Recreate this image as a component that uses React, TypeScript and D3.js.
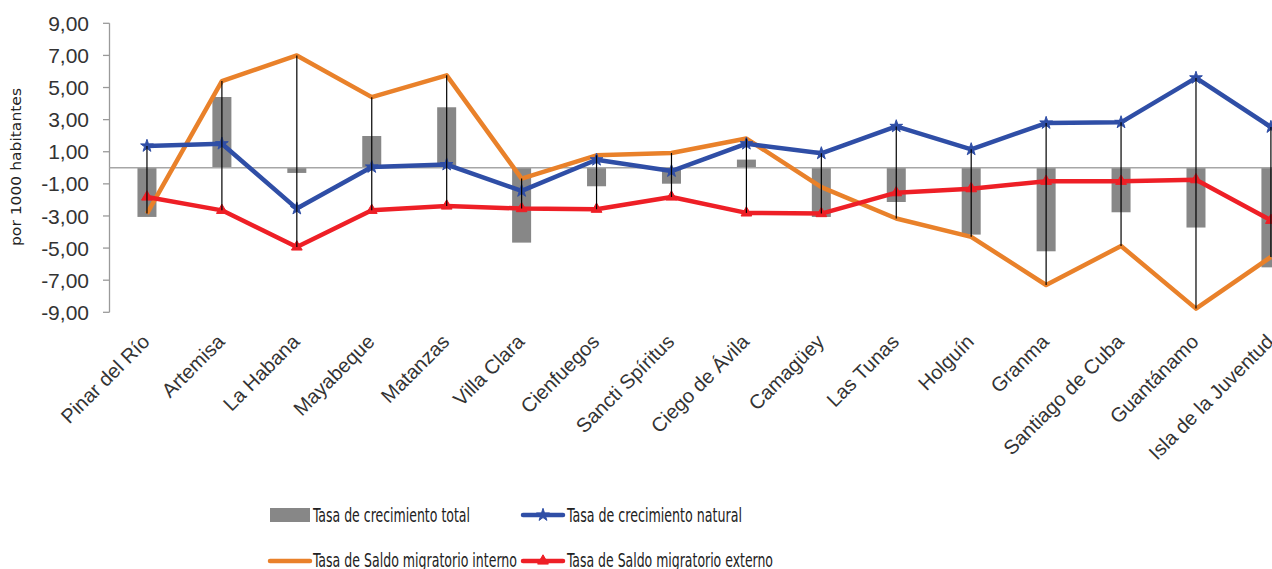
import React from "react";
import * as d3 from "d3";

const categories = [
  "Pinar del Río", "Artemisa", "La Habana", "Mayabeque", "Matanzas", "Villa Clara",
  "Cienfuegos", "Sancti Spíritus", "Ciego de Ávila", "Camagüey", "Las Tunas", "Holguín",
  "Granma", "Santiago de Cuba", "Guantánamo", "Isla de la Juventud",
];
const total = [-3.06, 4.41, -0.32, 1.98, 3.77, -4.66, -1.15, -0.99, 0.51, -3.06, -2.13, -4.16, -5.2, -2.77, -3.72, -6.2];
const natural = [1.36, 1.5, -2.54, 0.05, 0.2, -1.44, 0.5, -0.2, 1.5, 0.9, 2.58, 1.15, 2.79, 2.83, 5.6, 2.54];
const internal = [-2.85, 5.4, 7.0, 4.4, 5.76, -0.67, 0.78, 0.92, 1.82, -1.2, -3.16, -4.3, -7.3, -4.87, -8.77, -5.55];
const external = [-1.82, -2.65, -4.93, -2.65, -2.38, -2.54, -2.58, -1.82, -2.81, -2.85, -1.55, -1.3, -0.84, -0.84, -0.74, -3.27];
const yTicks = [-9, -7, -5, -3, -1, 1, 3, 5, 7, 9];
const legendLabels = [
  "Tasa de crecimiento total",
  "Tasa de crecimiento natural",
  "Tasa de Saldo migratorio interno",
  "Tasa de Saldo migratorio externo",
];

const W = 1272, H = 569;
const GRAY = "#878787", BLUE = "#2F4EA6", ORANGE = "#E9812A", RED = "#EE1F26";

export default function App() {
  const x = d3.scaleBand<string>().domain(categories).range([109.5, 109.5 + 74.93 * 16]).padding(0);
  const y = d3.scaleLinear().domain([-9, 9]).range([312.3, 23.3]);
  const cx = (i: number) => (x(categories[i]) as number) + x.bandwidth() / 2;
  const barW = 19;
  const lineGen = d3.line<number>().x((_, i) => cx(i)).y((d) => y(d));
  const fmt = (v: number) => v.toFixed(2).replace(".", ",");
  const star = d3.symbol().type(d3.symbolStar).size(50)() as string;
  const tri = d3.symbol().type(d3.symbolTriangle).size(50)() as string;
  const sans = "'Liberation Sans', Arial, sans-serif";
  const narrow = "'DejaVu Sans Condensed', 'Liberation Sans Narrow', 'Liberation Sans', sans-serif";

  return (
    <svg width={W} height={H} style={{ position: "absolute", left: 0, top: 0, display: "block", background: "#fff" }}>
      <rect width={W} height={H} fill="#fff" />
      {/* y axis */}
      <line x1={109.5} x2={109.5} y1={y(9)} y2={y(-9)} stroke="#9a9a9a" strokeWidth={1.3} />
      {yTicks.map((t) => (
        <g key={t}>
          <line x1={103} x2={109.5} y1={y(t)} y2={y(t)} stroke="#9a9a9a" strokeWidth={1.3} />
          <text x={89} y={y(t)} dy="0.36em" textAnchor="end" fontFamily={sans} fontSize={21} fill="#333">
            {fmt(t)}
          </text>
        </g>
      ))}
      <text
        transform={`translate(21,${167}) rotate(-90)`}
        textAnchor="middle"
        fontFamily={narrow}
        fontSize={14}
        textLength={158}
        lengthAdjust="spacingAndGlyphs"
        fill="#222"
      >
        por 1000 habitantes
      </text>
      {/* bars */}
      {total.map((v, i) => (
        <rect key={i} x={cx(i) - barW / 2} width={barW} y={y(Math.max(0, v))} height={Math.abs(y(v) - y(0))} fill={GRAY} />
      ))}
      {/* zero line */}
      <line x1={109.5} x2={W} y1={y(0)} y2={y(0)} stroke="#a6a6a6" strokeWidth={1.5} />
      {/* lines */}
      <path d={lineGen(internal) as string} fill="none" stroke={ORANGE} strokeWidth={4.5} strokeLinejoin="round" />
      <path d={lineGen(natural) as string} fill="none" stroke={BLUE} strokeWidth={4.5} strokeLinejoin="round" />
      {natural.map((v, i) => (
        <path key={i} d={star} transform={`translate(${cx(i)},${y(v)})`} fill={BLUE} stroke={BLUE} strokeWidth={1} />
      ))}
      <path d={lineGen(external) as string} fill="none" stroke={RED} strokeWidth={4.5} strokeLinejoin="round" />
      {external.map((v, i) => (
        <path key={i} d={tri} transform={`translate(${cx(i)},${y(v)})`} fill={RED} stroke={RED} strokeWidth={1} />
      ))}
      {/* high-low lines */}
      {categories.map((c, i) => {
        const vals = [natural[i], internal[i], external[i]];
        return (
          <line key={c} x1={cx(i)} x2={cx(i)} y1={y(d3.max(vals) as number)} y2={y(d3.min(vals) as number)} stroke="#000" strokeWidth={1.2} />
        );
      })}
      {/* x labels */}
      {categories.map((c, i) => (
        <text
          key={c}
          transform={`translate(${cx(i) + 4},${343}) rotate(-45)`}
          textAnchor="end"
          fontFamily={sans}
          fontSize={20}
          fill="#333"
        >
          {c}
        </text>
      ))}
      {/* legend */}
      <g fontFamily={narrow} fontSize={19.5} fill="#222">
        <rect x={270} y={508} width={40} height={14} fill={GRAY} />
        <text x={313} y={522} textLength={157} lengthAdjust="spacingAndGlyphs">{legendLabels[0]}</text>
        <line x1={523} x2={563} y1={515} y2={515} stroke={BLUE} strokeWidth={4.5} strokeLinecap="round" />
        <path d={star} transform="translate(543,515)" fill={BLUE} stroke={BLUE} />
        <text x={567} y={522} textLength={175} lengthAdjust="spacingAndGlyphs">{legendLabels[1]}</text>
        <line x1={270} x2={310} y1={561} y2={561} stroke={ORANGE} strokeWidth={4.5} strokeLinecap="round" />
        <text x={313} y={567} textLength={204} lengthAdjust="spacingAndGlyphs">{legendLabels[2]}</text>
        <line x1={523} x2={563} y1={561} y2={561} stroke={RED} strokeWidth={4.5} strokeLinecap="round" />
        <path d={tri} transform="translate(543,561)" fill={RED} stroke={RED} />
        <text x={567} y={567} textLength={206} lengthAdjust="spacingAndGlyphs">{legendLabels[3]}</text>
      </g>
    </svg>
  );
}
